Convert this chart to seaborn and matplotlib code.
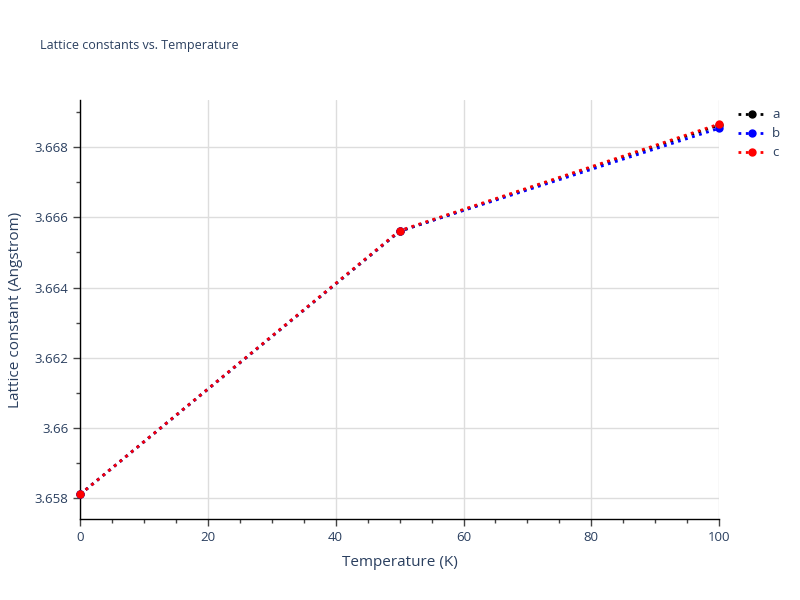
import pandas as pd
import matplotlib
matplotlib.use("Agg")
import matplotlib.pyplot as plt
from matplotlib.ticker import MultipleLocator, FuncFormatter
import seaborn as sns

temperature = [0, 50, 100]
lat_a = [3.65810, 3.66560, 3.66863]
lat_b = [3.65810, 3.66561, 3.66854]
lat_c = [3.65810, 3.66562, 3.66866]

data = pd.DataFrame({
    "T": temperature * 3,
    "value": lat_a + lat_b + lat_c,
    "axis": ["a"] * 3 + ["b"] * 3 + ["c"] * 3,
})

sns.set_style("white")
plt.rcParams["font.family"] = ["Open Sans", "DejaVu Sans"]
text_color = "#2a3f5f"

fig = plt.figure(figsize=(8, 6), dpi=100)
ax = fig.add_axes([0.1, 0.135, 0.799, 0.698])

palette = {"a": "black", "b": "blue", "c": "red"}
sns.lineplot(data=data, x="T", y="value", hue="axis", palette=palette,
             marker="o", markersize=6, markeredgewidth=0, linestyle=":",
             linewidth=2, ax=ax, legend=False, zorder=3)
for line in ax.get_lines():
    line.set_clip_on(False)

ax.set_xlim(0, 100)
ax.set_ylim(3.6574, 3.66934)
ax.xaxis.set_major_locator(MultipleLocator(20))
ax.xaxis.set_minor_locator(MultipleLocator(5))
ax.yaxis.set_major_locator(MultipleLocator(0.002))
ax.yaxis.set_minor_locator(MultipleLocator(0.001))
ax.yaxis.set_major_formatter(FuncFormatter(lambda v, p: f"{v:.4f}".rstrip("0")))
ax.grid(True, which="major", color="#dddddd", linewidth=1)
ax.set_axisbelow(True)

for side in ["top", "right"]:
    ax.spines[side].set_visible(False)
for side in ["left", "bottom"]:
    ax.spines[side].set_color("black")
    ax.spines[side].set_linewidth(1)

ax.tick_params(which="both", direction="out", colors="#444444",
               labelcolor=text_color, labelsize=9.5)
ax.tick_params(which="major", length=5, width=1, bottom=True, left=True)
ax.tick_params(which="minor", length=3, width=1, bottom=True, left=True)

ax.set_xlabel("Temperature (K)", fontsize=11, color=text_color, labelpad=8)
ax.set_ylabel("Lattice constant (Angstrom)", fontsize=11, color=text_color, labelpad=8)
fig.text(0.05, 0.925, "Lattice constants vs. Temperature", fontsize=9,
         color=text_color, va="center")

handles = [plt.Line2D([], [], color=palette[k], linestyle=":", linewidth=2,
                      marker="o", markersize=5) for k in ["a", "b", "c"]]
fig.legend(handles, ["a", "b", "c"], loc="upper left",
           bbox_to_anchor=(0.908, 0.839), frameon=False, fontsize=9.5,
           labelcolor=text_color, handlelength=2.1, handletextpad=0.45,
           labelspacing=0.45)

fig.savefig("out.png", dpi=100)
